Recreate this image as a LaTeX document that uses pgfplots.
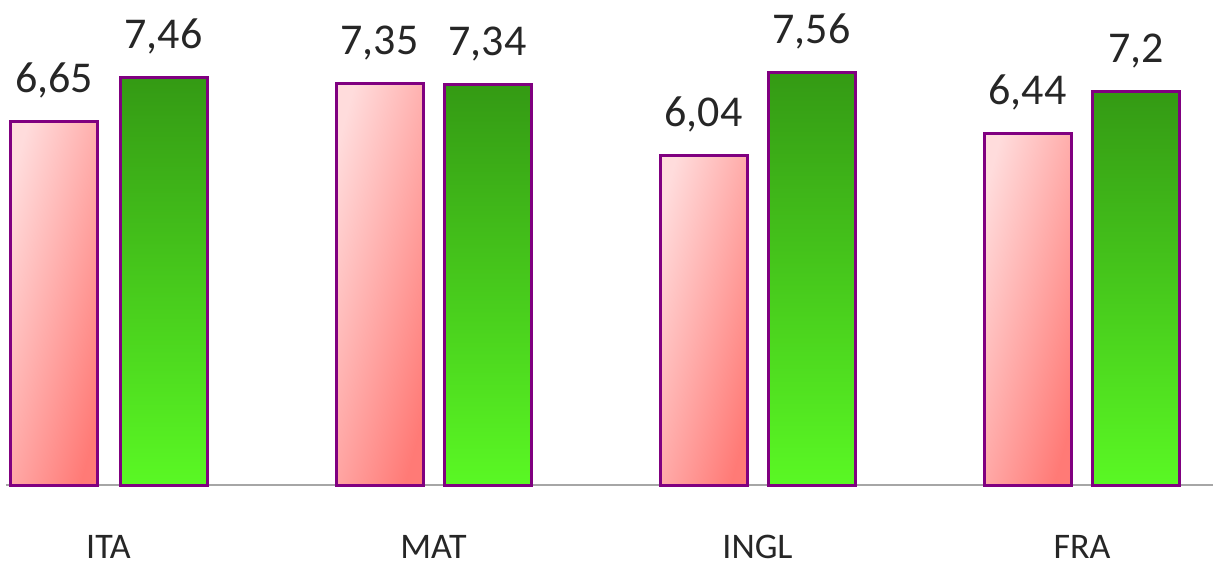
\documentclass[border=0pt]{standalone}
\usepackage{fontspec}
\setmainfont{Carlito}
\usepackage{pgfplots}
\pgfplotsset{compat=1.18}
\definecolor{barline}{HTML}{800080}
\definecolor{pinkL}{HTML}{FFDCDC}
\definecolor{pinkR}{HTML}{FF7A76}
\definecolor{greenT}{HTML}{349A14}
\definecolor{greenB}{HTML}{5AF824}
\definecolor{baseln}{HTML}{A6A6A6}
\pgfplotsset{
  pinkbar/.style={draw=barline, line width=3pt, left color=pinkL, right color=pinkR, shading angle=75},
  greenbar/.style={draw=barline, line width=3pt, top color=greenT, bottom color=greenB},
}
\begin{document}
\begin{tikzpicture}[x=1pt,y=1pt]
\path[use as bounding box] (0,0) rectangle (1213,566);
\begin{axis}[
  at={(6pt,81pt)}, anchor=south west,
  scale only axis, width=1207pt, height=485pt,
  xmin=6, xmax=1213, ymin=0, ymax=8.883,
  axis x line*=bottom, axis y line=none,
  x axis line style={baseln, line width=2pt, -},
  clip=false,
  ytick=\empty,
  xtick={108.5,433.5,757.5,1082},
  xticklabels={ITA,MAT,INGL,FRA},
  major tick length=0pt,
  xticklabel style={anchor=base, yshift=-73pt, font=\fontsize{36}{36}\selectfont, text=black!85},
  ybar, bar width=87pt, bar shift=0pt,
  nodes near coords,
  /pgf/number format/use comma,
  /pgf/number format/assume math mode=true,
  every node near coord/.append style={anchor=base, yshift=29pt, font=\fontsize{44}{44}\selectfont, text=black!85},
]
% first series (pink)
\addplot[pinkbar] coordinates {(54,6.65)};
\addplot[pinkbar] coordinates {(379.5,7.35)};
\addplot[pinkbar] coordinates {(703.5,6.04)};
\addplot[pinkbar] coordinates {(1027.5,6.44)};
% second series (green)
\addplot[greenbar] coordinates {(163.5,7.46)};
\addplot[greenbar] coordinates {(487.5,7.34)};
\addplot[greenbar] coordinates {(811.5,7.56)};
\addplot[greenbar] coordinates {(1136,7.2)};
\end{axis}
\end{tikzpicture}
\end{document}
